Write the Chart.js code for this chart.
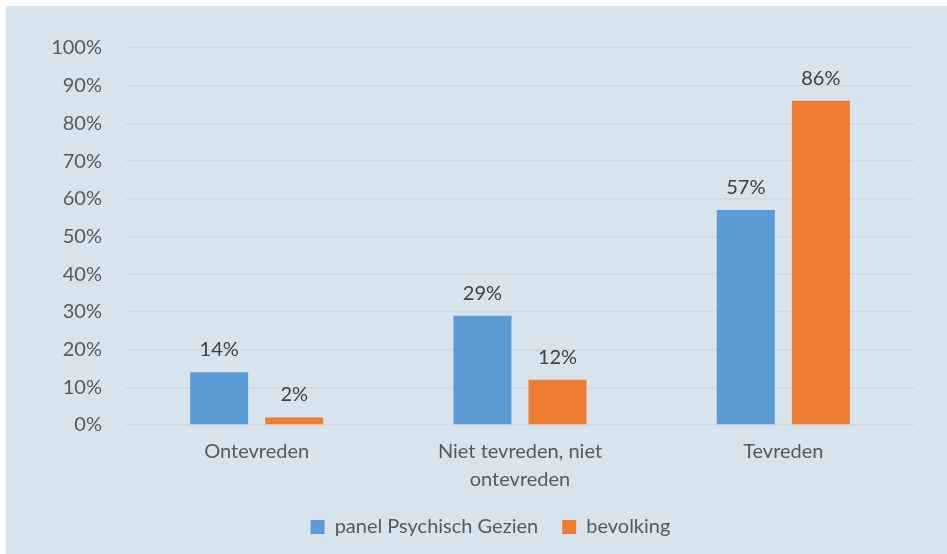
<!DOCTYPE html>
<html>
<head>
<meta charset="utf-8">
<script src="https://cdn.jsdelivr.net/npm/chart.js@4"></script>
<style>
  html, body { margin: 0; padding: 0; background: #ffffff; }
  #wrap { position: absolute; left: 6px; top: 6px; width: 941px; height: 548px; background: #d7e4ee; }
</style>
</head>
<body>
<div id="wrap"><canvas id="c"></canvas></div>
<script>
const categories = ["Ontevreden", ["Niet tevreden, niet", "ontevreden"], "Tevreden"];
const seriesNames = ["panel Psychisch Gezien", "bevolking"];
const panelValues = [14, 29, 57];
const bevolkingValues = [2, 12, 86];
const yTicks = [0, 10, 20, 30, 40, 50, 60, 70, 80, 90, 100];

const FONT = "Lato, 'Open Sans', sans-serif";

const dataLabels = {
  id: 'dataLabels',
  afterDatasetsDraw(chart) {
    const ctx = chart.ctx;
    ctx.save();
    ctx.font = "20px " + FONT;
    ctx.fillStyle = "#404040";
    ctx.textAlign = "center";
    ctx.textBaseline = "alphabetic";
    chart.data.datasets.forEach((ds, i) => {
      chart.getDatasetMeta(i).data.forEach((bar, j) => {
        ctx.fillText(ds.data[j] + "%", bar.x, bar.y - 16);
      });
    });
    ctx.restore();
  }
};

const legendShift = {
  id: 'legendShift',
  afterLayout(chart) {
    if (chart.legend) { chart.legend.left += 15; chart.legend.right += 15; }
  }
};

new Chart(document.getElementById('c'), {
  type: 'bar',
  data: {
    labels: categories,
    datasets: [
      { label: seriesNames[0], data: panelValues, backgroundColor: '#5b9bd5',
        categoryPercentage: 0.57, barPercentage: 0.773 },
      { label: seriesNames[1], data: bevolkingValues, backgroundColor: '#ed7d31',
        categoryPercentage: 0.57, barPercentage: 0.773 }
    ]
  },
  options: {
    responsive: true,
    maintainAspectRatio: false,
    animation: false,
    layout: { padding: { left: 30, top: 42, right: 32, bottom: 7 } },
    plugins: {
      legend: {
        position: 'bottom',
        labels: {
          boxWidth: 14, boxHeight: 14, padding: 24,
          color: '#595959',
          font: { family: FONT, size: 20 }
        }
      },
      tooltip: { enabled: false }
    },
    scales: {
      x: {
        grid: { display: false },
        border: { display: false },
        ticks: {
          color: '#595959',
          font: { family: FONT, size: 20, lineHeight: 1.4 },
          padding: 5,
          maxRotation: 0
        },
        afterFit(scale) { scale.height = 68; }
      },
      y: {
        min: 0, max: 100,
        afterBuildTicks(scale) { scale.ticks = yTicks.map(v => ({ value: v })); },
        grid: { color: '#d4d8da', lineWidth: 1.5, drawTicks: false },
        border: { display: false },
        ticks: {
          color: '#595959',
          font: { family: FONT, size: 20 },
          padding: 23,
          callback: v => v + '%'
        },
        afterFit(scale) { scale.width = 89; }
      }
    }
  },
  plugins: [dataLabels, legendShift]
});
</script>
</body>
</html>
